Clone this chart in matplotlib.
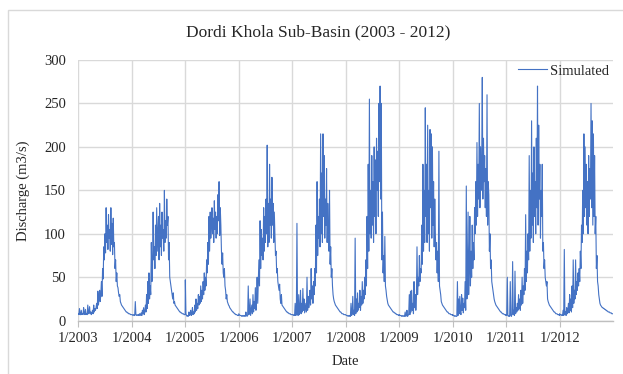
import matplotlib
matplotlib.use("Agg")
import matplotlib.pyplot as plt
from matplotlib.patches import Rectangle
import numpy as np
import pandas as pd

# Simulated daily-scale discharge (m3/s), sampled roughly every four days, one list per year
q_2003 = [8, 7, 14, 7, 7, 12, 7, 8,
          7, 15, 8, 7, 13, 7, 8,
          7, 18, 8, 9, 16, 8, 10, 7,
          9, 12, 8, 18, 10, 14, 12,
          15, 20, 14, 34, 18, 25, 35, 22,
          30, 45, 28, 60, 48, 85, 70,
          100, 78, 130, 90, 110, 82, 122, 95,
          105, 80, 130, 88, 112, 76, 118, 85,
          90, 60, 70, 45, 55, 40, 38,
          32, 28, 30, 22, 20, 18, 17, 16,
          15, 14, 13, 12, 11, 10, 10,
          9, 9, 8, 8, 8, 7, 7, 7]
q_2004 = [7, 7, 6, 7, 6, 6, 22, 7,
          6, 7, 6, 7, 6, 8, 6,
          7, 9, 6, 12, 8, 15, 7, 10,
          18, 10, 30, 14, 45, 20, 55,
          25, 40, 30, 90, 45, 60, 125, 70,
          85, 60, 110, 75, 130, 80, 100,
          120, 70, 135, 85, 110, 75, 125, 95,
          105, 80, 150, 90, 115, 95, 140, 110,
          120, 70, 90, 50, 45, 40, 35,
          30, 25, 32, 20, 22, 18, 17, 16,
          15, 14, 13, 12, 11, 10, 10,
          9, 9, 8, 8, 8, 7, 7, 7]
q_2005 = [47, 8, 6, 5, 6, 5, 10, 6,
          7, 12, 6, 8, 15, 7, 10,
          8, 18, 10, 25, 12, 20, 14, 30,
          18, 28, 20, 40, 22, 35, 25,
          45, 30, 55, 35, 50, 40, 70, 55,
          90, 65, 120, 80, 125, 95, 110,
          130, 100, 118, 90, 138, 105, 125, 95,
          120, 100, 145, 115, 160, 98, 130, 110,
          80, 65, 78, 55, 50, 60, 40,
          35, 25, 30, 22, 20, 18, 17, 15,
          14, 13, 12, 11, 10, 10, 9,
          8, 8, 7, 7, 7, 6, 6, 6]
q_2006 = [8, 7, 6, 6, 6, 5, 6, 5,
          6, 5, 6, 5, 10, 6, 5,
          6, 40, 7, 8, 25, 6, 12, 18,
          8, 30, 10, 22, 14, 38, 12,
          25, 50, 20, 45, 70, 40, 115, 60,
          105, 75, 95, 70, 130, 80, 120,
          90, 140, 100, 202, 85, 135, 90, 180,
          110, 140, 95, 165, 110, 135, 90, 125,
          100, 75, 80, 55, 60, 45, 40,
          35, 42, 25, 20, 30, 18, 17, 16,
          15, 14, 13, 12, 11, 10, 10,
          9, 9, 8, 8, 8, 7, 7, 7]
q_2007 = [7, 7, 6, 7, 6, 20, 6, 7,
          112, 8, 6, 30, 7, 12, 35,
          8, 20, 10, 37, 12, 25, 9, 15,
          20, 10, 50, 12, 28, 15, 22,
          35, 18, 60, 25, 40, 20, 45, 30,
          60, 40, 110, 55, 160, 75, 120,
          95, 140, 85, 215, 100, 170, 90, 215,
          120, 190, 95, 140, 110, 175, 90, 135,
          100, 80, 150, 65, 85, 50, 60,
          40, 30, 25, 22, 20, 18, 17, 16,
          15, 14, 13, 12, 11, 10, 10,
          9, 8, 8, 8, 7, 7, 7, 7]
q_2008 = [7, 6, 6, 6, 5, 6, 5, 6,
          5, 20, 6, 8, 28, 7, 12,
          6, 95, 8, 25, 10, 32, 12, 20,
          15, 35, 12, 28, 18, 45, 20,
          35, 25, 50, 30, 70, 40, 120, 60,
          180, 80, 255, 100, 150, 95, 190,
          110, 160, 90, 200, 120, 185, 100, 210,
          150, 195, 120, 250, 160, 270, 140, 250,
          70, 125, 55, 75, 45, 97, 40,
          35, 28, 24, 20, 18, 17, 16, 15,
          14, 13, 12, 11, 10, 10, 9,
          9, 8, 8, 7, 7, 7, 6, 6]
q_2009 = [7, 6, 6, 6, 5, 6, 5, 5,
          6, 5, 10, 5, 6, 12, 5,
          6, 8, 30, 7, 34, 10, 35, 12,
          20, 8, 45, 15, 30, 12, 25,
          85, 30, 50, 40, 75, 45, 60, 55,
          110, 65, 180, 80, 150, 90, 245,
          120, 180, 90, 225, 100, 150, 80, 220,
          130, 215, 95, 200, 110, 160, 85, 140,
          100, 70, 90, 55, 80, 45, 195,
          40, 35, 30, 22, 20, 18, 17, 16,
          15, 14, 13, 12, 11, 10, 10,
          9, 8, 8, 8, 7, 7, 7, 6]
q_2010 = [7, 6, 6, 5, 6, 5, 5, 5,
          45, 6, 25, 8, 28, 10, 7,
          30, 12, 26, 9, 20, 15, 45, 12,
          155, 25, 40, 125, 30, 60, 120,
          40, 80, 50, 110, 60, 90, 70, 130,
          100, 160, 110, 205, 120, 180, 140,
          250, 130, 200, 150, 180, 280, 140, 210,
          160, 190, 130, 175, 120, 260, 110, 160,
          145, 80, 100, 60, 70, 45, 40,
          35, 30, 25, 22, 20, 18, 17, 16,
          15, 14, 13, 12, 11, 10, 10,
          9, 8, 8, 8, 7, 7, 7, 6]
q_2011 = [7, 6, 50, 6, 5, 6, 5, 45,
          6, 5, 8, 68, 7, 12, 6,
          57, 8, 15, 10, 20, 12, 30, 14,
          25, 12, 35, 18, 50, 20, 40,
          30, 60, 35, 122, 45, 80, 55, 100,
          70, 190, 80, 150, 95, 230, 110,
          170, 90, 200, 120, 160, 100, 210, 130,
          270, 110, 225, 140, 180, 95, 150, 120,
          180, 80, 90, 60, 70, 50, 45,
          40, 45, 25, 22, 20, 18, 17, 16,
          15, 14, 13, 12, 11, 10, 10,
          9, 8, 8, 8, 7, 7, 7, 6]
q_2012 = [8, 7, 7, 6, 7, 6, 12, 6,
          82, 7, 10, 6, 15, 8, 12,
          20, 9, 30, 12, 25, 10, 40, 15,
          70, 20, 35, 25, 70, 30, 45,
          35, 55, 40, 60, 45, 80, 60, 110,
          90, 150, 100, 215, 120, 200, 130,
          180, 110, 160, 100, 190, 120, 175, 140,
          250, 130, 230, 110, 215, 120, 190, 100,
          120, 60, 75, 45, 40, 30, 25,
          20, 18, 17, 16, 15, 15, 14, 14,
          13, 13, 12, 12, 11, 11, 10,
          10, 10, 9, 9, 9, 8, 8, 8]

years = [2003, 2004, 2005, 2006, 2007, 2008, 2009, 2010, 2011, 2012]
yearly = [q_2003, q_2004, q_2005, q_2006, q_2007, q_2008, q_2009, q_2010, q_2011, q_2012]
series_name = "Simulated"
title = "Dordi Khola Sub-Basin (2003 - 2012)"
tick_labels = [f"1/{y}" for y in years]

# Build the date axis for each year's samples
dates, values = [], []
for y, q in zip(years, yearly):
    d = pd.date_range(f"{y}-01-01", f"{y}-12-31", periods=len(q))
    dates.extend(d)
    values.extend(q)
dates = pd.to_datetime(dates)
values = np.array(values, dtype=float)

plt.rcParams["font.family"] = ["Liberation Serif", "DejaVu Serif"]

fig = plt.figure(figsize=(6.23, 3.74), dpi=100)
fig.patch.set_facecolor("white")

# light chart-area border
fig.patches.append(Rectangle((8 / 623, -0.1), 1.0, 1 - 10 / 374 + 0.1,
                             transform=fig.transFigure, fill=False,
                             edgecolor="#d9d9d9", linewidth=1.0))

ax = fig.add_axes([78.3 / 623, 1 - 320.7 / 374, (613 - 78.3) / 623, (320.7 - 60) / 374])

ax.plot(dates, values, color="#4472C4", linewidth=0.8, label=series_name)

ax.set_xlim(pd.Timestamp("2003-01-01"), pd.Timestamp("2012-12-31"))
ax.set_ylim(0, 300)
ax.set_yticks(np.arange(0, 301, 50))
ax.set_xticks([pd.Timestamp(f"{y}-01-01") for y in years])
ax.set_xticklabels(tick_labels)

ax.grid(True, color="#d9d9d9", linewidth=1.0)
ax.set_axisbelow(True)
for s in ["top", "right", "left"]:
    ax.spines[s].set_visible(False)
ax.spines["bottom"].set_color("#bfbfbf")
ax.spines["bottom"].set_linewidth(1.0)
ax.tick_params(axis="x", length=4, color="#bfbfbf", labelsize=10.5, pad=4, labelcolor="#262626")
ax.tick_params(axis="y", length=0, labelsize=10.5, pad=9, labelcolor="#262626")

ax.set_xlabel("Date", fontsize=10.5, color="#262626", labelpad=7)
ax.set_ylabel("Discharge (m3/s)", fontsize=10.5, color="#262626", labelpad=10)
fig.text(0.51, 1 - 32 / 374, title, ha="center", va="center", fontsize=12.5, color="#262626")

leg = ax.legend(loc="upper right", frameon=False, fontsize=10.5, handlelength=2.0,
                handletextpad=0.2, borderaxespad=0.1, borderpad=0.2)
for t in leg.get_texts():
    t.set_color("#262626")

fig.savefig("out.png", dpi=100, facecolor="white")
